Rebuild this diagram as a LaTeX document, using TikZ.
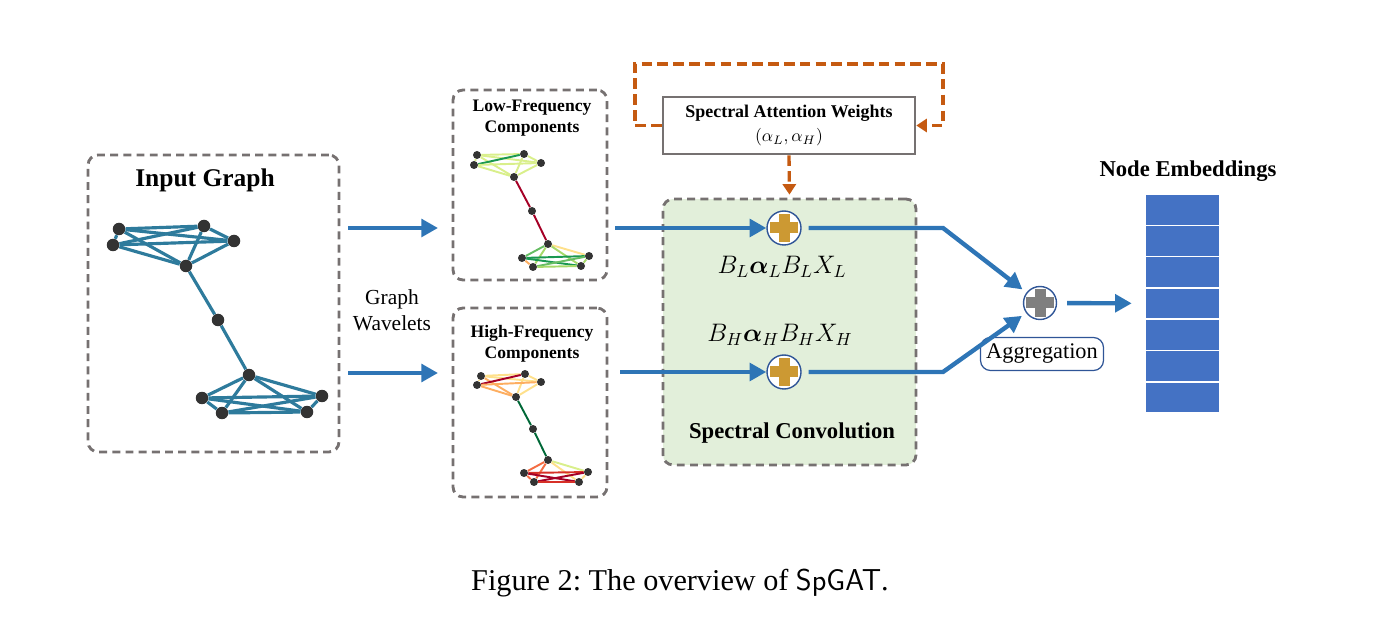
\documentclass[tikz,border=0pt]{standalone}
\usepackage{fontspec}
\setmainfont{Liberation Serif}
\usepackage{bm}
\usetikzlibrary{arrows.meta}
\frenchspacing

\definecolor{edgeblue}{HTML}{2E7B9C}
\definecolor{flowblue}{HTML}{2E75B6}
\definecolor{boxgray}{HTML}{767171}
\definecolor{attnorange}{HTML}{C55A11}
\definecolor{convgreen}{HTML}{E2EFDA}
\definecolor{plusgold}{HTML}{CC9933}
\definecolor{plusgray}{HTML}{7F7F7F}
\definecolor{cellblue}{HTML}{4472C4}
\definecolor{ringblue}{HTML}{2F5597}
\definecolor{rgLight}{HTML}{D9EF8B}
\definecolor{rgPale}{HTML}{A6D96A}
\definecolor{rgMid}{HTML}{66BD63}
\definecolor{rgDark}{HTML}{1A9850}
\definecolor{rgDeep}{HTML}{006837}
\definecolor{ylPale}{HTML}{FEE08B}
\definecolor{orPale}{HTML}{FDAE61}
\definecolor{orRed}{HTML}{F46D43}
\definecolor{rdMid}{HTML}{D73027}
\definecolor{rdDeep}{HTML}{A50026}

\tikzset{
  dashbox/.style={draw=boxgray, dash pattern=on 4.5pt off 3pt, line width=1.6pt, rounded corners=0.2cm},
  flow/.style={draw=flowblue, line width=2.5pt, -{Triangle[length=9.5pt,width=10pt]}},
  attn/.style={draw=attnorange, line width=1.9pt, dash pattern=on 6pt off 3pt, -{Triangle[length=6pt,width=7.5pt]}},
  plusnode/.style={circle, draw=ringblue, line width=0.8pt, fill=white, minimum size=0.68cm, inner sep=0pt,
    path picture={
      \fill[#1] ([shift={(-0.28cm,-0.11cm)}]path picture bounding box.center) rectangle ([shift={(0.28cm,0.11cm)}]path picture bounding box.center);
      \fill[#1] ([shift={(-0.11cm,-0.28cm)}]path picture bounding box.center) rectangle ([shift={(0.11cm,0.28cm)}]path picture bounding box.center);
    }},
  cell/.style={rectangle, fill=cellblue, draw=white, line width=0.9pt, minimum width=1.48cm, minimum height=0.626cm, inner sep=0pt}
}

\begin{document}
\begin{tikzpicture}[x=0.02cm,y=-0.02cm]
			\useasboundingbox (0,0) rectangle (1375,634);
			% boxes
			\node[dashbox, minimum width=5.02cm, minimum height=5.94cm] (inbox) at (213.5,303.5) {};
			\node[dashbox, minimum width=3.08cm, minimum height=3.8cm] (lowbox) at (530,185) {};
			\node[dashbox, minimum width=3.08cm, minimum height=3.78cm] (highbox) at (530,402.5) {};
			\node[dashbox, fill=convgreen, minimum width=5.06cm, minimum height=5.32cm] (conv) at (789.5,332) {};
			\node[draw=boxgray, line width=1.5pt, fill=white, minimum width=5.04cm, minimum height=1.14cm, align=center, font=\fontsize{10.2}{13.6}\selectfont] (saw) at (789,125.5) {\textbf{Spectral Attention Weights}\\$(\alpha_L,\alpha_H)$};

			% titles
			\node[font=\fontsize{14.5}{16}\selectfont\bfseries] (intitle) at (205,180) {Input Graph};
			\node[align=center, font=\fontsize{10}{12}\selectfont\bfseries] (lowtitle) at (532,118) {Low-Frequency\\Components};
			\node[align=center, font=\fontsize{10}{12}\selectfont\bfseries] (hightitle) at (532,344) {High-Frequency\\Components};
			\node[align=center, font=\fontsize{12.2}{14.7}\selectfont] (wave) at (392,310) {Graph\\Wavelets};
			\node[font=\fontsize{12.9}{15}\selectfont\bfseries] (convtitle) at (792,433) {Spectral Convolution};
			\node[font=\fontsize{12.9}{15}\selectfont\bfseries] (embtitle) at (1188,171) {Node Embeddings};
			\node[font=\fontsize{17.2}{20}\selectfont] (caption) at (680,583) {Figure 2: The overview of \textsf{SpGAT}.};

			% input graph
			\begin{scope}[every node/.style={circle,fill=black!80,inner sep=0pt,minimum size=0.25cm}]
				\node (g1) at (119,229) {};
				\node (g2) at (204,226) {};
				\node (g3) at (113,245) {};
				\node (g4) at (234,241) {};
				\node (g5) at (186,266) {};
				\node (g6) at (218,320) {};
				\node (g7) at (249,375) {};
				\node (g8) at (202,398) {};
				\node (g9) at (322,396) {};
				\node (g10) at (222,413) {};
				\node (g11) at (307,412) {};
			\end{scope}
			\begin{scope}[every edge/.style={draw=edgeblue,line width=1.8pt}]
				\foreach \a/\b in {1/2,1/3,1/4,1/5,2/3,2/4,2/5,3/4,3/5,4/5,5/6,6/7,7/8,7/9,7/10,7/11,8/9,8/10,8/11,9/10,9/11,10/11}
					\path (g\a) edge (g\b);
			\end{scope}

			% low-frequency graph
			\begin{scope}[every node/.style={circle,fill=black!80,inner sep=0pt,minimum size=0.16cm}]
				\node (l1) at (477,155) {};
				\node (l2) at (524,154) {};
				\node (l3) at (474,165) {};
				\node (l4) at (541,163) {};
				\node (l5) at (514,177) {};
				\node (l6) at (532,211) {};
				\node (l7) at (548,244) {};
				\node (l8) at (522,258) {};
				\node (l9) at (589,256) {};
				\node (l10) at (533,267) {};
				\node (l11) at (581,266) {};
			\end{scope}
			\begin{scope}[every edge/.style={draw,line width=1.1pt}]
				\foreach \a/\b/\c in {1/2/rgLight,1/3/rgLight,1/4/rgLight,1/5/rgLight,2/3/rgDark,2/4/rgLight,2/5/rgLight,3/4/rgLight,3/5/rgLight,4/5/rgLight,5/6/rdDeep,6/7/rdDeep,7/8/rgMid,7/9/ylPale,7/10/rgPale,7/11/rgPale,8/9/rgDark,8/10/orPale,8/11/rgDark,9/10/rgMid,9/11/rgPale,10/11/rgPale}
					\path (l\a) edge[draw=\c] (l\b);
			\end{scope}

			% high-frequency graph
			\begin{scope}[every node/.style={circle,fill=black!80,inner sep=0pt,minimum size=0.16cm}]
				\node (h1) at (481,376) {};
				\node (h2) at (525,374) {};
				\node (h3) at (477,385) {};
				\node (h4) at (541,382) {};
				\node (h5) at (516,397) {};
				\node (h6) at (533,429) {};
				\node (h7) at (548,460) {};
				\node (h8) at (524,473) {};
				\node (h9) at (588,472) {};
				\node (h10) at (534,482) {};
				\node (h11) at (579,482) {};
			\end{scope}
			\begin{scope}[every edge/.style={draw,line width=1.1pt}]
				\foreach \a/\b/\c in {1/2/ylPale,1/3/ylPale,1/4/ylPale,1/5/orPale,2/3/rdDeep,2/4/ylPale,2/5/ylPale,3/4/orPale,3/5/orPale,4/5/ylPale,5/6/rgDeep,6/7/rgDeep,7/8/orRed,7/9/rgLight,7/10/orRed,7/11/ylPale,8/9/rdMid,8/10/orRed,8/11/rdDeep,9/10/rdDeep,9/11/ylPale,10/11/rdMid}
					\path (h\a) edge[draw=\c] (h\b);
			\end{scope}

			% convolution
			\node[plusnode=plusgold] (plusL) at (784,228) {};
			\node[plusnode=plusgold] (plusH) at (784,372) {};
			\node[font=\fontsize{14}{16}\selectfont] (formL) at (782,267) {$B_L\bm{\alpha}_L B_L X_L$};
			\node[font=\fontsize{14}{16}\selectfont] (formH) at (780,335) {$B_H\bm{\alpha}_H B_H X_H$};

			% aggregation and embeddings
			\node[plusnode=plusgray, minimum size=0.66cm] (agg) at (1040,303) {};
			\node[draw=ringblue, line width=0.7pt, fill=white, rounded corners=0.2cm, minimum width=2.46cm, minimum height=0.66cm, inner sep=1pt, font=\fontsize{12.7}{14}\selectfont] (agglabel) at (1042,354) {Aggregation};
			\foreach \i in {1,...,7}
				\node[cell] (e\i) at (1182.5,{194+31.3*(\i-0.5)}) {};

			% arrows
			\coordinate (wL0) at (348,228);
			\coordinate (wL1) at (438,228);
			\coordinate (wH0) at (348,373);
			\coordinate (wH1) at (438,373);
			\coordinate (kL) at (943,228);
			\coordinate (kH) at (943,372);
			\coordinate (o1) at (635,64);
			\coordinate (o2) at (943,64);
			\draw[flow] (wL0) -- (wL1);
			\draw[flow] (wH0) -- (wH1);
			\draw[flow, shorten <=0.14cm] (lowbox.east |- plusL) -- (plusL);
			\draw[flow, shorten <=0.24cm] (highbox.east |- plusH) -- (plusH);
			\draw[flow, shorten <=0.14cm, shorten >=0.1cm] (plusL) -- (kL) -- (agg);
			\draw[flow, shorten <=0.14cm, shorten >=0.1cm] (plusH) -- (kH) -- (agg);
			\draw[flow, shorten <=0.2cm, shorten >=0.26cm] (agg) -- (e4);
			\draw[attn] (saw.west) -| (o1) -- (o2) |- (saw.east);
			\draw[attn, shorten >=0.06cm] (saw.south) -- (conv.north);
		\end{tikzpicture}
\end{document}
